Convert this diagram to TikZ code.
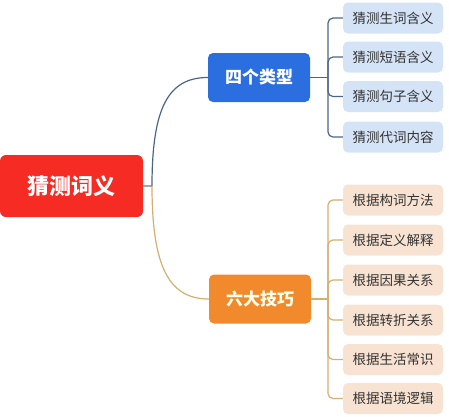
\documentclass[tikz,border=0pt]{standalone}
\usepackage{fontspec}
\newfontfamily\cjk{Noto Sans CJK SC}
\usetikzlibrary{positioning}
\definecolor{rootred}{HTML}{F52B24}
\definecolor{typeblue}{HTML}{2A6EDF}
\definecolor{skillorange}{HTML}{F08A2C}
\definecolor{leafblue}{HTML}{D5E3F6}
\definecolor{leaforange}{HTML}{F8E3D2}
\definecolor{lineblue}{HTML}{4B6685}
\definecolor{lineorange}{HTML}{D6AE6E}
\definecolor{leaftext}{HTML}{333333}

\begin{document}
\begin{tikzpicture}[x=1pt,y=-1pt,
	rootbox/.style={fill=rootred, rounded corners=6pt, minimum width=143pt, minimum height=62pt, text=white, font=\cjk\bfseries\fontsize{22}{26}\selectfont},
	midbox/.style={rounded corners=5pt, minimum width=102pt, minimum height=49pt, font=\cjk\bfseries\fontsize{17}{20}\selectfont},
	leafbox/.style={rounded corners=5pt, minimum width=100pt, minimum height=31pt, text=leaftext, font=\cjk\fontsize{13.5}{16}\selectfont},
	blueline/.style={draw=lineblue, line width=1.2pt, rounded corners=5pt},
	orangeline/.style={draw=lineorange, line width=1.2pt, rounded corners=5pt}]
	\useasboundingbox (0,0) rectangle (449,416);
	% root and the two branches
	\node (root) [rootbox] at (71.5,186) {猜测词义};
	\node (types) [midbox, fill=typeblue, text=white] at (259,77.5) {四个类型};
	\node (skills) [midbox, fill=skillorange, text=white!92!yellow] at (260,299) {六大技巧};
	\coordinate (rj) at (152,186);
	\draw[draw=gray!70, line width=1.2pt] (root.east) -- (rj);
	\draw[draw=lineblue, line width=1.2pt] (rj) .. controls (152,108) and (168,77.5) .. (types.west);
	\draw[draw=lineorange, line width=1.2pt] (rj) .. controls (152,265) and (168,299) .. (skills.west);
	% four types
	\node (t1) [leafbox, fill=leafblue] at (393,18) {猜测生词含义};
	\node (t2) [leafbox, fill=leafblue] at (393,57) {猜测短语含义};
	\node (t3) [leafbox, fill=leafblue] at (393,96.5) {猜测句子含义};
	\node (t4) [leafbox, fill=leafblue] at (393,137) {猜测代词内容};
	\coordinate (tj) at (328,77.5);
	\draw[blueline] (types.east) -- (tj);
	\draw[blueline] (tj) |- (t1.west);
	\draw[blueline] (tj) |- (t2.west);
	\draw[blueline] (tj) |- (t3.west);
	\draw[blueline] (tj) |- (t4.west);
	% six skills
	\node (s1) [leafbox, fill=leaforange] at (393,200) {根据构词方法};
	\node (s2) [leafbox, fill=leaforange] at (393,240) {根据定义解释};
	\node (s3) [leafbox, fill=leaforange] at (393,280) {根据因果关系};
	\node (s4) [leafbox, fill=leaforange] at (393,320) {根据转折关系};
	\node (s5) [leafbox, fill=leaforange] at (393,359.5) {根据生活常识};
	\node (s6) [leafbox, fill=leaforange] at (393,398.5) {根据语境逻辑};
	\coordinate (sj) at (328,299);
	\draw[orangeline] (skills.east) -- (sj);
	\draw[orangeline] (sj) |- (s1.west);
	\draw[orangeline] (sj) |- (s2.west);
	\draw[orangeline] (sj) |- (s3.west);
	\draw[orangeline] (sj) |- (s4.west);
	\draw[orangeline] (sj) |- (s5.west);
	\draw[orangeline] (sj) |- (s6.west);
\end{tikzpicture}
\end{document}
